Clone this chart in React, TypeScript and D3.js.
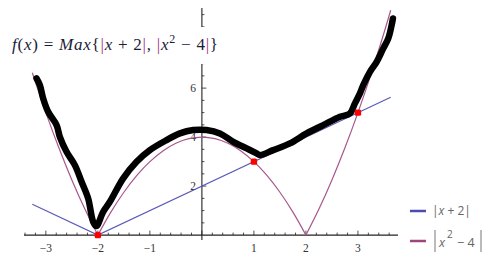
import React from "react";
import * as d3 from "d3";

const blueX = [-3.26, -2, 3.63];
const blueY = [1.26, 0, 5.63];

const pinkX = [-3.26, -3, -2.75, -2.5, -2.25, -2, -1.75, -1.5, -1.25, -1, -0.75, -0.5, -0.25, 0, 0.25, 0.5, 0.75, 1, 1.25, 1.5, 1.75, 2, 2.25, 2.5, 2.75, 3, 3.25, 3.5, 3.63];
const pinkY = [6.628, 5, 3.5625, 2.25, 1.0625, 0, 0.9375, 1.75, 2.4375, 3, 3.4375, 3.75, 3.9375, 4, 3.9375, 3.75, 3.4375, 3, 2.4375, 1.75, 0.9375, 0, 1.0625, 2.25, 3.5625, 5, 6.5625, 8.25, 9.177];

const maxX = [-3.179, -3.115, -3.052, -2.956, -2.794, -2.731, -2.602, -2.442, -2.313, -2.187, -2.09, -2.029, -1.898, -1.769, -1.513, -1.256, -1.0, -0.679, -0.423, -0.167, 0.09, 0.346, 0.602, 0.86, 1.052, 1.115, 1.371, 1.692, 2.013, 2.333, 2.654, 2.846, 2.942, 3.038, 3.102, 3.231, 3.36, 3.487, 3.583, 3.648, 3.673];
const maxY = [6.396, 6.122, 5.58, 5.033, 4.49, 4.012, 3.4, 2.857, 2.176, 1.498, 0.543, 0.367, 0.951, 1.359, 2.314, 2.992, 3.469, 3.878, 4.151, 4.286, 4.286, 4.151, 3.808, 3.539, 3.335, 3.265, 3.469, 3.743, 4.151, 4.49, 4.829, 4.967, 5.376, 5.784, 6.122, 6.665, 7.073, 7.62, 8.029, 8.571, 8.845];

const pointX = [-2, 1, 3];
const pointY = [0, 3, 5];

const xTickLabels = [-3, -2, -1, 1, 2, 3];
const yMajorTicks = [2, 4, 6, 8];
const yTickLabels = [2, 4, 6];

export default function App() {
  const x = d3.scaleLinear().domain([-3.42, 3.77]).range([24, 398]);
  const y = d3.scaleLinear().domain([-0.2, 9.27]).range([240, 8]);
  const line = d3.line<[number, number]>().x((d) => x(d[0])).y((d) => y(d[1]));
  const curve = d3.line<[number, number]>().x((d) => x(d[0])).y((d) => y(d[1])).curve(d3.curveCatmullRom);

  const pinkPts: [number, number][] = pinkX.map((v, i) => [v, pinkY[i]]);
  const segs: [number, number][][] = [];
  let cur: [number, number][] = [];
  pinkPts.forEach((p) => {
    cur.push(p);
    if (p[1] === 0) {
      segs.push(cur);
      cur = [p];
    }
  });
  segs.push(cur);

  const bluePts: [number, number][] = blueX.map((v, i) => [v, blueY[i]]);
  const maxPts: [number, number][] = maxX.map((v, i) => [v, maxY[i]]);

  const minorX = d3.range(-17, 19).map((k) => k * 0.2).filter((v) => Math.abs(v - Math.round(v)) > 1e-6);
  const majorX = d3.range(-3, 4);
  const minorY = d3.range(1, 19).map((k) => k * 0.5).filter((v) => v % 2 !== 0);
  const y0 = y(0);
  const x0 = x(0);
  const serif = "'Liberation Serif', 'DejaVu Serif', serif";
  const barColor = "#a0307f";
  const textColor = "#1b1b3a";

  return (
    <svg width={500} height={267} style={{ position: "fixed", left: 0, top: 0, background: "#fff" }} fontFamily={serif}>
      <rect x={0} y={0} width={500} height={267} fill="#fff" />
      {/* axes */}
      <line x1={x(-3.42)} x2={x(3.77)} y1={y0} y2={y0} stroke="#222" strokeWidth={1.1} />
      <line x1={x0} x2={x0} y1={y(-0.2)} y2={y(9.27)} stroke="#222" strokeWidth={1.1} />
      {minorX.map((v) => (
        <line key={"mx" + v} x1={x(v)} x2={x(v)} y1={y0} y2={y0 - 2.5} stroke="#222" strokeWidth={0.8} />
      ))}
      {majorX.map((v) => (
        <line key={"Mx" + v} x1={x(v)} x2={x(v)} y1={y0} y2={y0 - 4.5} stroke="#222" strokeWidth={0.8} />
      ))}
      {minorY.map((v) => (
        <line key={"my" + v} x1={x0} x2={x0 + 2.5} y1={y(v)} y2={y(v)} stroke="#222" strokeWidth={0.8} />
      ))}
      {yMajorTicks.map((v) => (
        <line key={"My" + v} x1={x0} x2={x0 + 4.5} y1={y(v)} y2={y(v)} stroke="#222" strokeWidth={0.8} />
      ))}
      {xTickLabels.map((v) => (
        <text key={"xl" + v} x={x(v)} y={252} textAnchor="middle" fontSize={11.5} fill="#333">
          {v < 0 ? "\u2212" + Math.abs(v) : String(v)}
        </text>
      ))}
      {yTickLabels.map((v) => (
        <text key={"yl" + v} x={x0 - 6} y={y(v) + 4} textAnchor="end" fontSize={11.5} fill="#333">
          {v}
        </text>
      ))}
      {/* curves */}
      <path d={line(bluePts) || ""} fill="none" stroke="#5a5ab8" strokeWidth={1.2} />
      {segs.map((s, i) => (
        <path key={"p" + i} d={curve(s) || ""} fill="none" stroke="#a8578b" strokeWidth={1.2} />
      ))}
      <path d={curve(maxPts) || ""} fill="none" stroke="#000" strokeWidth={6.5} strokeLinejoin="round" strokeLinecap="round" />
      {pointX.map((v, i) => (
        <rect key={"pt" + i} x={x(v) - 3.2} y={y(pointY[i]) - 3.2} width={6.4} height={6.4} rx={1.5} fill="#ff0000" />
      ))}
      {/* title */}
      <rect x={0} y={27} width={228} height={37} fill="#fff" />
      <text x={12} y={50} fontSize={17} fill={textColor} textLength={206} lengthAdjust="spacing">
        <tspan fontStyle="italic">f</tspan>
        <tspan>(</tspan>
        <tspan fontStyle="italic">x</tspan>
        <tspan>) = </tspan>
        <tspan fontStyle="italic">Max</tspan>
        <tspan>{"{"}</tspan>
        <tspan fill={barColor}>|</tspan>
        <tspan fontStyle="italic">x</tspan>
        <tspan> + 2</tspan>
        <tspan fill={barColor}>|</tspan>
        <tspan>, </tspan>
        <tspan fill={barColor}>|</tspan>
        <tspan fontStyle="italic">x</tspan>
        <tspan fontSize={12} dy={-7}>2</tspan>
        <tspan dy={7}> {"\u2212"} 4</tspan>
        <tspan fill={barColor}>|</tspan>
        <tspan>{"}"}</tspan>
      </text>
      {/* legend */}
      <line x1={410} x2={426} y1={211} y2={211} stroke="#4b4bb0" strokeWidth={2.5} />
      <text x={432} y={215} fontSize={12} fill="#666" fontFamily="'Open Sans', 'DejaVu Sans', sans-serif">
        <tspan>|</tspan>
        <tspan fontStyle="italic">x</tspan>
        <tspan> + 2|</tspan>
      </text>
      <line x1={410} x2={426} y1={241} y2={241} stroke="#a0447e" strokeWidth={2.5} />
      <g fill="#666" fontFamily="'Open Sans', 'DejaVu Sans', sans-serif">
        <line x1={435} x2={435} y1={230} y2={252} stroke="#777" strokeWidth={1} />
        <text x={439} y={247} fontSize={12.5} fontStyle="italic">x</text>
        <text x={447} y={238} fontSize={10}>2</text>
        <text x={457} y={247} fontSize={12.5}>{"\u2212 4"}</text>
        <line x1={481} x2={481} y1={230} y2={252} stroke="#777" strokeWidth={1} />
      </g>
    </svg>
  );
}
